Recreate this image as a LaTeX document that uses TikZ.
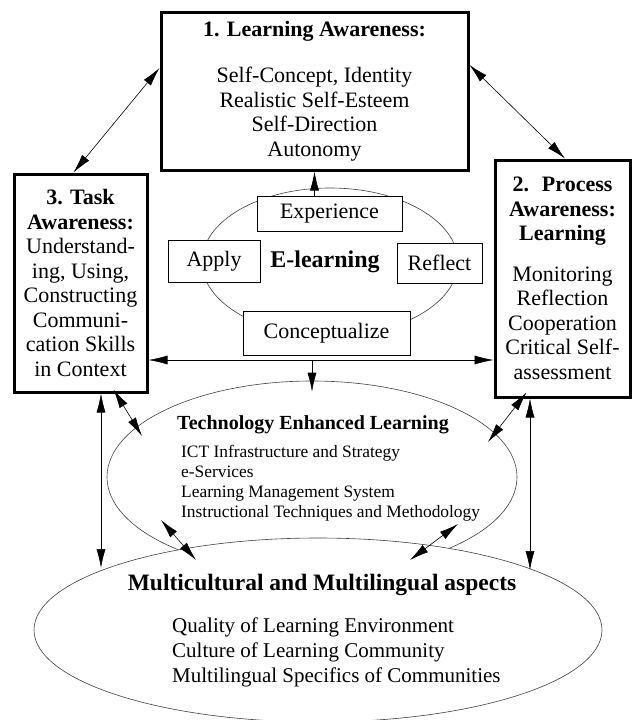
\documentclass[tikz,border=0pt]{standalone}
\usepackage{fontspec}
\setmainfont{Liberation Serif}
\usetikzlibrary{positioning,shapes.geometric,arrows.meta,calc}

\begin{document}
\begin{tikzpicture}[x=1pt,y=-1pt,>={Latex[length=19pt,width=9pt]}]
      \tikzset{
	  awarebox/.style={draw, fill=white, line width=3pt, inner sep=0pt, align=center, font=\fontsize{22}{24.5}\selectfont},
	  cyclebox/.style={draw, fill=white, line width=0.6pt, inner sep=0pt, font=\fontsize{22}{24}\selectfont},
	  oval/.style={ellipse, draw=black!75, line width=0.6pt, inner sep=0pt},
	  link/.style={<->, line width=0.6pt},
      }
      \useasboundingbox (0,0) rectangle (633,720);

      % the three ellipses
      \node (elrn) at (330,262) [oval, minimum width=256pt, minimum height=148pt] {};
      \node (tel) at (312,477) [oval, minimum width=410pt, minimum height=192pt] {};
      \node (mm) at (318,630) [oval, fill=white, minimum width=568pt, minimum height=184pt] {};

      % awareness boxes
      \node (lrn) at (314.5,91) [awarebox, minimum width=307pt, minimum height=158pt]
	{\textbf{1. Learning Awareness:}\\[22pt] Self-Concept, Identity\\ Realistic Self-Esteem\\ Self-Direction\\ Autonomy};
      \node (task) at (80.5,283) [awarebox, minimum width=133pt, minimum height=218pt]
	{\textbf{3. Task}\\ \textbf{Awareness:}\\ Understand-\\ ing, Using,\\ Constructing\\ Communi-\\ cation Skills\\ in Context};
      \node (proc) at (562.5,278.5) [awarebox, minimum width=135pt, minimum height=237pt]
	{\textbf{2.~ Process}\\ \textbf{Awareness:}\\ \textbf{Learning}\\[16pt] Monitoring\\ Reflection\\ Cooperation\\ Critical Self-\\ assessment};

      % learning cycle
      \node (exp) at (329.5,213.5) [cyclebox, minimum width=145pt, minimum height=35pt] {Experience};
      \node (apply) at (214,261) [cyclebox, minimum width=92pt, minimum height=42pt] {Apply};
      \node (refl) at (439.5,263) [cyclebox, minimum width=85pt, minimum height=40pt] {Reflect};
      \node (conc) at (326.5,333) [cyclebox, minimum width=167pt, minimum height=44pt] {Conceptualize};
      \node (elabel) at (325,262) [font=\fontsize{24}{26}\selectfont\bfseries] {E-learning};

      % technology and culture
      \node (teltitle) at (313,425) [font=\fontsize{20}{22}\selectfont\bfseries] {Technology Enhanced Learning};
      \node (tellist) at (181,483) [anchor=west, inner sep=0pt, align=left, font=\fontsize{17.4}{20}\selectfont]
	{ICT Infrastructure and Strategy\\ e-Services\\ Learning Management System\\ Instructional Techniques and Methodology};
      \node (mmtitle) at (322,585) [font=\fontsize{23.5}{26}\selectfont\bfseries] {Multicultural and Multilingual aspects};
      \node (mmlist) at (172,652) [anchor=west, inner sep=0pt, align=left, font=\fontsize{21}{25}\selectfont]
	{Quality of Learning Environment\\ Culture of Learning Community\\ Multilingual Specifics of Communities};

      % connectors
      \coordinate (split) at (312,360);
      \draw [link] ([yshift=23pt]lrn.west) -- ([xshift=-7pt]task.north);
      \draw [link] ([yshift=26pt]lrn.east) -- ([xshift=2.5pt]proc.north);
      \draw [->, line width=0.6pt] (lrn.south |- exp.north) -- (lrn.south);
      \draw [link] (task.east |- split) -- (proc.west |- split);
      \draw [->, line width=0.6pt] (split) -- ($(tel.north)+(0,11)$);
      \draw [link] ($(task.south)+(33,-4)$) -- ($(tel)+(-170,-41)$);
      \draw [link] ($(proc.south)+(-36,-6)$) -- ($(tel)+(176,-35)$);
      \draw [link] ($(task.south)+(20.5,0)$) -- ($(mm)+(-217,-62)$);
      \draw [link] ($(proc.south)+(-32.5,0)$) -- ($(mm)+(212,-60)$);
      \draw [link] ($(tel)+(-151,43)$) -- ($(mm)+(-122,-70)$);
      \draw [link] ($(tel)+(146,47)$) -- ($(mm)+(92,-70)$);
    \end{tikzpicture}
\end{document}
